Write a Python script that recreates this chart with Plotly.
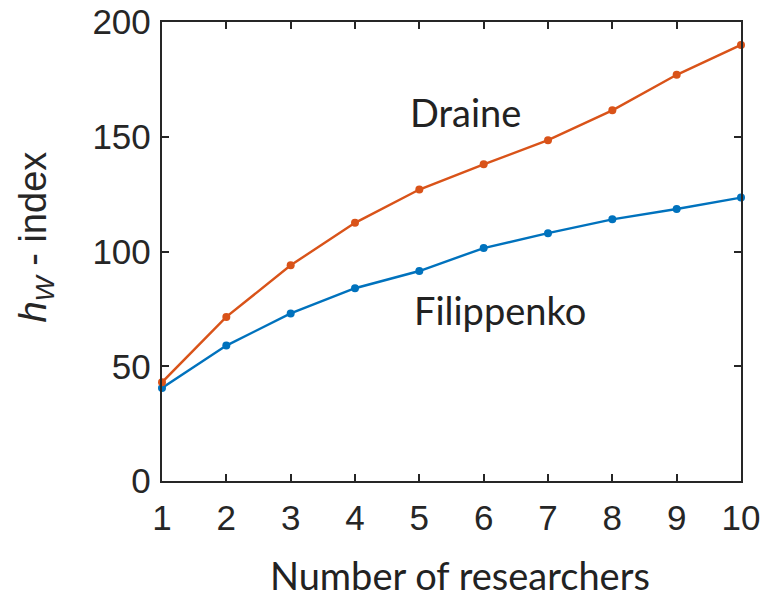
import plotly.graph_objects as go

researchers = [1, 2, 3, 4, 5, 6, 7, 8, 9, 10]
draine = [43, 71.5, 94, 112.5, 127, 138, 148.5, 161.5, 177, 190]
filippenko = [40.5, 59, 73, 84, 91.5, 101.5, 108, 114, 118.5, 123.5]
y_ticks = [0, 50, 100, 150, 200]

axis_color = "#262626"
tick_font = dict(family="Liberation Sans, Arial, sans-serif", size=35, color=axis_color)
label_font = dict(family="Lato, Carlito, sans-serif", size=38, color="#222222")

fig = go.Figure()
fig.add_trace(go.Scatter(
    x=researchers, y=filippenko, mode="lines+markers",
    line=dict(color="#0072BD", width=2.4),
    marker=dict(color="#0072BD", size=8, symbol="circle"),
    name="Filippenko", cliponaxis=False,
))
fig.add_trace(go.Scatter(
    x=researchers, y=draine, mode="lines+markers",
    line=dict(color="#D95319", width=2.4),
    marker=dict(color="#D95319", size=8, symbol="circle"),
    name="Draine", cliponaxis=False,
))

# series labels
fig.add_annotation(x=5.71, y=161, text="Draine", showarrow=False, font=label_font)
fig.add_annotation(x=6.25, y=74.5, text="Filippenko", showarrow=False, font=label_font)

# axis titles
fig.add_annotation(
    xref="paper", yref="paper", x=-0.218, y=0.532,
    xanchor="center", yanchor="middle", textangle=-90, showarrow=False,
    text="<i>h</i><sub><i>W</i></sub> - index",
    font=dict(family="Liberation Sans, Arial, sans-serif", size=38, color=axis_color),
)
fig.add_annotation(
    xref="paper", yref="paper", x=0.515, y=-0.205,
    xanchor="center", yanchor="middle", showarrow=False,
    text="Number of researchers", font=label_font,
)

fig.update_layout(
    width=763, height=598,
    margin=dict(l=162, r=22, t=22, b=117),
    plot_bgcolor="white", paper_bgcolor="white",
    showlegend=False,
)
fig.update_xaxes(
    range=[1, 10], tickvals=researchers, ticks="inside", ticklen=7, tickwidth=2,
    tickcolor=axis_color, showline=True, linecolor=axis_color, linewidth=2.4,
    mirror="ticks", showgrid=False, zeroline=False, tickfont=tick_font,
    ticklabelstandoff=5, automargin=False,
)
fig.update_yaxes(
    range=[0, 200], tickvals=y_ticks, ticks="inside", ticklen=7, tickwidth=2,
    tickcolor=axis_color, showline=True, linecolor=axis_color, linewidth=2.4,
    mirror="ticks", showgrid=False, zeroline=False, tickfont=tick_font,
    ticklabelstandoff=2, automargin=False,
)

fig.write_html("out.html")
